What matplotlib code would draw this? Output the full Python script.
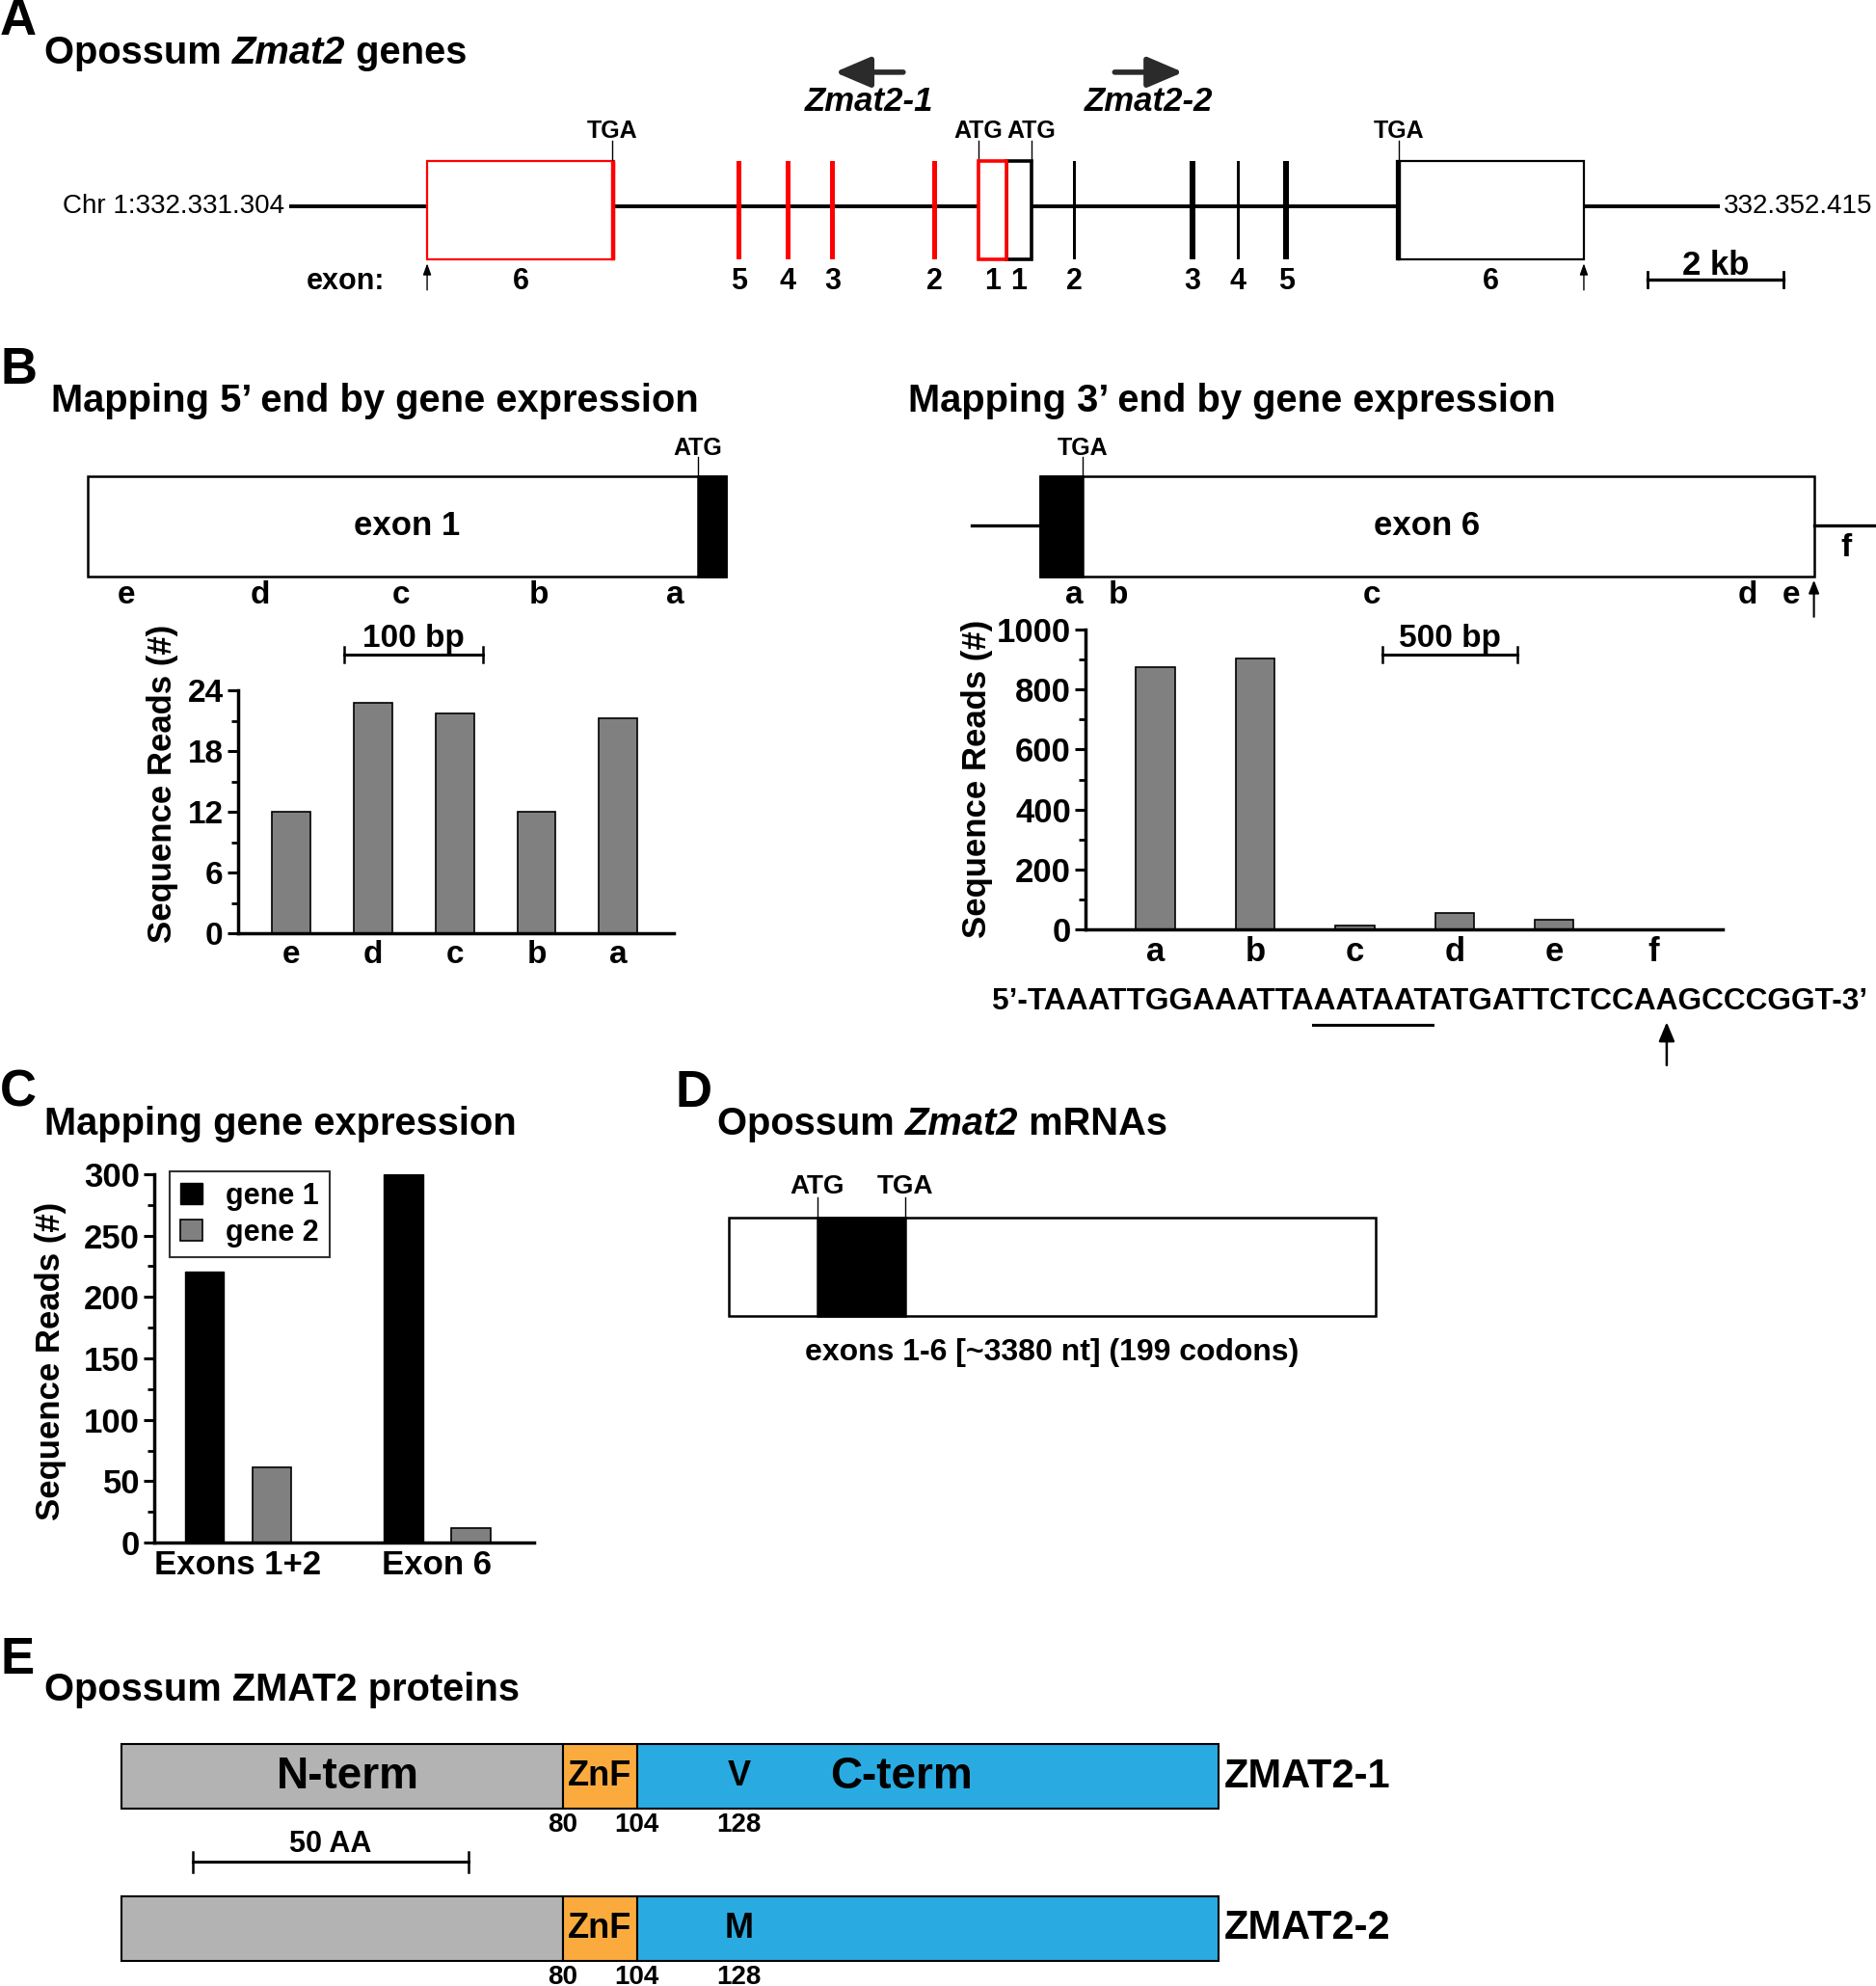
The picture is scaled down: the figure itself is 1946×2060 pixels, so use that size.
import matplotlib
matplotlib.use('Agg')
import matplotlib.pyplot as plt
import numpy as np
from matplotlib.patches import Rectangle
from matplotlib.ticker import MultipleLocator

plt.rcParams['font.family'] = ['Liberation Sans', 'DejaVu Sans']
plt.rcParams['font.weight'] = 'bold'
plt.rcParams['axes.linewidth'] = 2.5

# ---------------- data ----------------
# Panel A: genomic layout (kb from segment start)
chr_len_kb = 21.111
chr_start_label = 'Chr 1:332.331.304'
chr_end_label = '332.352.415'
g1_exon6_kb = [2.04, 4.80]
g1_exon6_cds_kb = 0.05
g1_mid_exons_kb = [6.64, 7.36, 8.02, 9.53]
g1_mid_labels = ['5', '4', '3', '2']
g1_exon1_kb = [10.17, 10.58]
g2_exon1_kb = [10.58, 10.95]
g2_mid_exons_kb = [11.59, 13.33, 14.00, 14.71]
g2_mid_widths_kb = [0.045, 0.08, 0.045, 0.08]
g2_mid_labels = ['2', '3', '4', '5']
g2_exon6_kb = [16.34, 19.10]
g2_exon6_cds_kb = 0.05
scale_kb = 2.0
scale_kb_start = 20.04

# Panel B: 5' end mapping
exon1_len_bp = 462
exon1_atg_bp = 442
pos5_labels = ['e', 'd', 'c', 'b', 'a']
pos5_bp = [28, 125, 227, 327, 425]
reads5 = [12, 22.8, 21.7, 12, 21.2]
scale5_bp = 100
scale5_start_bp = 186

# Panel B: 3' end mapping
exon6_len_bp = 2855
exon6_tga_bp = 159
exon6_flank_bp = [252, 230]
pos3_labels = ['a', 'b', 'c', 'd', 'e']
pos3_bp = [126, 290, 1224, 2612, 2771]
pos3_f_bp = 2972
bar3_labels = ['a', 'b', 'c', 'd', 'e', 'f']
reads3 = [873, 905, 15, 55, 33, 0]
scale3_bp = 500
scale3_start_bp = 1262
seq3 = '5\u2019-TAAATTGGAAATTAAATAATATGATTCTCCAAGCCCGGT-3\u2019'
polyA_signal = 'AATAAT'
cleavage_motif = 'CCAAG'
cleavage_offset = 3

# Panel C
groups_c = ['Exons 1+2', 'Exon 6']
gene1_reads = [221, 300]
gene2_reads = [61, 12]

# Panel D
mrna_len_nt = 3380
mrna_atg_nt = 463
mrna_tga_nt = 926
mrna_caption = 'exons 1-6 [~3380 nt] (199 codons)'

# Panel E
protein_len = 199
domain_bounds = [0, 80, 93.5, 199]
domain_colors = ['#b3b3b3', '#fbab3d', '#29abe2']
residue_pos = [80, 93.5, 112]
residue_labels = ['80', '104', '128']
protein_names = ['ZMAT2-1', 'ZMAT2-2']
variant_residue = ['V', 'M']
scale_aa = 50
scale_aa_start = 12.9

# ---------------- layout ----------------
W, H = 1481.0, 1568.0
fig = plt.figure(figsize=(19.46, 20.60), dpi=100)
renderer = fig.canvas.get_renderer()
PXL = fig.get_figwidth() * fig.dpi / W


def diagram_axes(px0, px1, d0, d1):
    s = (d1 - d0) / (px1 - px0)
    ax = fig.add_axes([0, 0, 1, 1])
    ax.set_xlim(d0 - px0 * s, d0 + (W - px0) * s)
    ax.set_ylim(H, 0)
    ax.axis('off')
    ax.patch.set_alpha(0)
    return ax


def add_ax(x0, y0, x1, y1):
    ax = fig.add_axes([x0 / W, 1 - y1 / H, (x1 - x0) / W, (y1 - y0) / H])
    ax.patch.set_alpha(0)
    return ax


ov = diagram_axes(0, W, 0, W)


def text_width(s, **kw):
    t1 = ov.text(0, 0, s + '|', **kw)
    t2 = ov.text(0, 0, '|', **kw)
    w = (t1.get_window_extent(renderer=renderer).width -
         t2.get_window_extent(renderer=renderer).width) / PXL
    t1.remove(); t2.remove()
    return w


def rich_text(x, y, parts, size):
    for s, style in parts:
        ov.text(x, y, s, fontsize=size, fontstyle=style, ha='left', va='baseline')
        x += text_width(s, fontsize=size, fontstyle=style)


# panel letters
for letter, (lx, ly) in zip('ABCDE', [(0, 17), (0, 292), (0, 863), (533, 863), (0, 1311)]):
    ov.text(lx, ly, letter, fontsize=38, ha='left', va='center')

# titles
TS = 28.7
rich_text(35, 50, [('Opossum ', 'normal'), ('Zmat2', 'italic'), (' genes', 'normal')], TS)
rich_text(40, 325, [('Mapping 5\u2019 end by gene expression', 'normal')], TS)
rich_text(717, 325, [('Mapping 3\u2019 end by gene expression', 'normal')], TS)
rich_text(35, 896, [('Mapping gene expression', 'normal')], TS)
rich_text(566, 896, [('Opossum ', 'normal'), ('Zmat2', 'italic'), (' mRNAs', 'normal')], TS)
rich_text(35, 1343, [('Opossum ZMAT2 proteins', 'normal')], TS)

# ---------------- Panel A ----------------
axA = diagram_axes(228, 1358, 0, chr_len_kb)
yA, topA, hA = 163, 127, 78
axA.plot([0, chr_len_kb], [yA, yA], color='k', lw=2.8, solid_capstyle='butt', zorder=1)
# gene 1 (red)
axA.add_patch(Rectangle((g1_exon6_kb[0], topA), g1_exon6_kb[1] - g1_exon6_kb[0], hA,
                        fc='white', ec='red', lw=1.6, zorder=2))
axA.add_patch(Rectangle((g1_exon6_kb[1] - g1_exon6_cds_kb, topA), g1_exon6_cds_kb, hA,
                        fc='red', ec='red', lw=1, zorder=3))
for xk in g1_mid_exons_kb:
    axA.add_patch(Rectangle((xk - 0.035, topA), 0.07, hA, fc='red', ec='none', zorder=3))
# exon 1 boxes
axA.add_patch(Rectangle((g2_exon1_kb[0], topA), g2_exon1_kb[1] - g2_exon1_kb[0], hA,
                        fc='white', ec='k', lw=2.6, zorder=2))
axA.add_patch(Rectangle((g1_exon1_kb[0], topA), g1_exon1_kb[1] - g1_exon1_kb[0], hA,
                        fc='white', ec='red', lw=2.6, zorder=3))
# gene 2 (black)
for xk, wk in zip(g2_mid_exons_kb, g2_mid_widths_kb):
    axA.add_patch(Rectangle((xk - wk / 2, topA), wk, hA, fc='k', ec='none', zorder=3))
axA.add_patch(Rectangle((g2_exon6_kb[0], topA), g2_exon6_kb[1] - g2_exon6_kb[0], hA,
                        fc='white', ec='k', lw=1.6, zorder=2))
axA.add_patch(Rectangle((g2_exon6_kb[0], topA), g2_exon6_cds_kb, hA,
                        fc='k', ec='k', lw=1, zorder=3))
# codon ticks
codon_marks = [(g1_exon6_kb[1] - g1_exon6_cds_kb / 2, 'TGA'),
               (g1_exon1_kb[0], 'ATG'),
               (g2_exon1_kb[1], 'ATG'),
               (g2_exon6_kb[0] + g2_exon6_cds_kb / 2, 'TGA')]
for xk, lab in codon_marks:
    axA.plot([xk, xk], [111, topA], color='k', lw=1.0)
    axA.text(xk, 113, lab, ha='center', va='bottom', fontsize=18)
# polyA arrows
for xk in [g1_exon6_kb[0], g2_exon6_kb[1]]:
    axA.annotate('', xy=(xk, 208), xytext=(xk, 229),
                 arrowprops=dict(arrowstyle='-|>,head_length=0.5,head_width=0.18', lw=1.0,
                                 color='k', shrinkA=0, shrinkB=0, mutation_scale=14))
# labels
axA.text(-0.07, yA, chr_start_label, ha='right', va='center', fontsize=20, fontweight='normal')
axA.text(chr_len_kb + 0.05, yA, chr_end_label, ha='left', va='center', fontsize=20,
         fontweight='normal')
ex_y = 222
ov.text(273, ex_y, 'exon:', ha='center', va='center', fontsize=22)
axA.text(np.mean(g1_exon6_kb), ex_y, '6', ha='center', va='center', fontsize=22)
for xk, lab in zip(g1_mid_exons_kb, g1_mid_labels):
    axA.text(xk, ex_y, lab, ha='center', va='center', fontsize=22)
axA.text(np.mean(g1_exon1_kb), ex_y, '1', ha='center', va='center', fontsize=22)
axA.text(np.mean(g2_exon1_kb), ex_y, '1', ha='center', va='center', fontsize=22)
for xk, lab in zip(g2_mid_exons_kb, g2_mid_labels):
    axA.text(xk, ex_y, lab, ha='center', va='center', fontsize=22)
axA.text(np.mean(g2_exon6_kb), ex_y, '6', ha='center', va='center', fontsize=22)
# scale bar
axA.plot([scale_kb_start, scale_kb_start + scale_kb], [221, 221], color='k', lw=2.4)
for xk in [scale_kb_start, scale_kb_start + scale_kb]:
    axA.plot([xk, xk], [215, 227], color='k', lw=2.0)
axA.text(scale_kb_start + scale_kb / 2, 217, '2 kb', ha='center', va='baseline', fontsize=25)
# gene direction arrows
arrow_kw = dict(arrowstyle='-|>,head_length=0.75,head_width=0.32', lw=4.0,
                color='#2b2b2b', shrinkA=0, shrinkB=0, mutation_scale=30)
ov.annotate('', xy=(659, 57), xytext=(713, 57), arrowprops=arrow_kw)
ov.annotate('', xy=(934, 57), xytext=(880, 57), arrowprops=arrow_kw)
ov.text(686, 80, 'Zmat2-1', ha='center', va='center', fontsize=25, fontstyle='italic')
ov.text(907, 80, 'Zmat2-2', ha='center', va='center', fontsize=25, fontstyle='italic')

# ---------------- Panel B left diagram ----------------
axB1 = diagram_axes(69, 573, 0, exon1_len_bp)
axB1.add_patch(Rectangle((0, 376), exon1_len_bp, 79, fc='white', ec='k', lw=1.8))
axB1.add_patch(Rectangle((exon1_atg_bp, 376), exon1_len_bp - exon1_atg_bp, 79, fc='k', ec='k', lw=1.8))
axB1.plot([exon1_atg_bp, exon1_atg_bp], [361, 376], color='k', lw=1.0)
axB1.text(exon1_atg_bp, 363, 'ATG', ha='center', va='bottom', fontsize=18)
axB1.text(exon1_len_bp / 2, 415, 'exon 1', ha='center', va='center', fontsize=25)
for xb, lab in zip(pos5_bp, pos5_labels):
    axB1.text(xb, 470, lab, ha='center', va='center', fontsize=24)
axB1.plot([scale5_start_bp, scale5_start_bp + scale5_bp], [517, 517], color='k', lw=2.2)
for xb in [scale5_start_bp, scale5_start_bp + scale5_bp]:
    axB1.plot([xb, xb], [511, 523], color='k', lw=1.8)
axB1.text(scale5_start_bp + scale5_bp / 2, 511, '100 bp', ha='center', va='baseline', fontsize=24)

# ---------------- Panel B right diagram ----------------
axB3 = diagram_axes(821, 1432, 0, exon6_len_bp)
axB3.plot([-exon6_flank_bp[0], 0], [415, 415], color='k', lw=2.4)
axB3.plot([exon6_len_bp, exon6_len_bp + exon6_flank_bp[1]], [415, 415], color='k', lw=2.4)
axB3.add_patch(Rectangle((0, 376), exon6_len_bp, 79, fc='white', ec='k', lw=1.8))
axB3.add_patch(Rectangle((0, 376), exon6_tga_bp, 79, fc='k', ec='k', lw=1.8))
axB3.plot([exon6_tga_bp, exon6_tga_bp], [361, 376], color='k', lw=1.0)
axB3.text(exon6_tga_bp, 363, 'TGA', ha='center', va='bottom', fontsize=18)
axB3.text(exon6_len_bp / 2, 415, 'exon 6', ha='center', va='center', fontsize=25)
for xb, lab in zip(pos3_bp, pos3_labels):
    axB3.text(xb, 470, lab, ha='center', va='center', fontsize=24)
axB3.text(pos3_f_bp, 433, 'f', ha='center', va='center', fontsize=24)
axB3.annotate('', xy=(exon6_len_bp, 458), xytext=(exon6_len_bp, 487),
              arrowprops=dict(arrowstyle='-|>,head_length=0.5,head_width=0.2', lw=1.5,
                              color='k', shrinkA=0, shrinkB=0, mutation_scale=16))
axB3.plot([scale3_start_bp, scale3_start_bp + scale3_bp], [517, 517], color='k', lw=2.2)
for xb in [scale3_start_bp, scale3_start_bp + scale3_bp]:
    axB3.plot([xb, xb], [511, 523], color='k', lw=1.8)
axB3.text(scale3_start_bp + scale3_bp / 2, 511, '500 bp', ha='center', va='baseline', fontsize=24)


def style_bar_axes(ax, major, minor, labelsize=24):
    for side in ['top', 'right']:
        ax.spines[side].set_visible(False)
    ax.yaxis.set_major_locator(MultipleLocator(major))
    ax.yaxis.set_minor_locator(MultipleLocator(minor))
    ax.tick_params(axis='y', which='major', length=8, width=2.2, labelsize=labelsize, pad=3)
    ax.tick_params(axis='y', which='minor', length=5, width=2.0)
    ax.tick_params(axis='x', length=0, labelsize=labelsize, pad=5)


# ---------------- Panel B left bars ----------------
axB2 = add_ax(188, 545, 532, 737)
axB2.bar(np.arange(len(reads5)), reads5, width=0.47, color='#808080', edgecolor='k', lw=1.2)
axB2.set_xlim(-0.65, 4.68)
axB2.set_ylim(0, 24)
style_bar_axes(axB2, 6, 3)
axB2.set_xticks(np.arange(len(reads5)))
axB2.set_xticklabels(pos5_labels)
ov.text(128, 619, 'Sequence Reads (#)', rotation=90, ha='center', va='center', fontsize=25)

# ---------------- Panel B right bars ----------------
axB4 = add_ax(857, 497, 1360, 734)
axB4.bar(np.arange(len(reads3)), reads3, width=0.39, color='#808080', edgecolor='k', lw=1.2)
axB4.set_xlim(-0.70, 5.69)
axB4.set_ylim(0, 1000)
style_bar_axes(axB4, 200, 100, labelsize=25)
axB4.set_xticks(np.arange(len(reads3)))
axB4.set_xticklabels(bar3_labels)
ov.text(771, 615, 'Sequence Reads (#)', rotation=90, ha='center', va='center', fontsize=25)

# sequence with polyA signal and cleavage site
SQ = 22.8
seq_x, seq_y = 783, 791
ov.text(seq_x, seq_y, seq3, ha='left', va='center', fontsize=SQ)
i0 = seq3.find(polyA_signal)
u0 = seq_x + text_width(seq3[:i0], fontsize=SQ)
u1 = seq_x + text_width(seq3[:i0 + len(polyA_signal)], fontsize=SQ)
ov.plot([u0, u1], [809, 809], color='k', lw=2.2)
ic = seq3.find(cleavage_motif) + cleavage_offset
cx = seq_x + text_width(seq3[:ic], fontsize=SQ) + text_width(seq3[ic], fontsize=SQ) / 2
ov.annotate('', xy=(cx, 807), xytext=(cx, 841),
            arrowprops=dict(arrowstyle='-|>,head_length=0.6,head_width=0.25', lw=1.8,
                            color='k', shrinkA=0, shrinkB=0, mutation_scale=20))

# ---------------- Panel C ----------------
axC = add_ax(122, 927, 422, 1218)
xc = np.arange(len(groups_c))
axC.bar(xc - 0.169, gene1_reads, 0.197, color='k', edgecolor='k', lw=1.0, label='gene 1')
axC.bar(xc + 0.169, gene2_reads, 0.197, color='#808080', edgecolor='k', lw=1.2, label='gene 2')
axC.set_xlim(-0.42, 1.49)
axC.set_ylim(0, 300)
style_bar_axes(axC, 50, 25, labelsize=25)
axC.set_xticks(xc)
axC.set_xticklabels(groups_c)
leg = axC.legend(loc='upper left', bbox_to_anchor=(0.04, 1.007), frameon=True, fancybox=False,
                 edgecolor='k', fontsize=22, handlelength=0.75, handleheight=0.75,
                 borderpad=0.35, labelspacing=0.25, handletextpad=0.8, borderaxespad=0)
leg.get_frame().set_linewidth(1.5)
ov.text(40, 1075, 'Sequence Reads (#)', rotation=90, ha='center', va='center', fontsize=25)

# ---------------- Panel D ----------------
axD = diagram_axes(575, 1086, 0, mrna_len_nt)
axD.add_patch(Rectangle((0, 961), mrna_len_nt, 78, fc='white', ec='k', lw=1.8))
axD.add_patch(Rectangle((mrna_atg_nt, 961), mrna_tga_nt - mrna_atg_nt, 78, fc='k', ec='k', lw=1.8))
for xn, lab in [(mrna_atg_nt, 'ATG'), (mrna_tga_nt, 'TGA')]:
    axD.plot([xn, xn], [945, 961], color='k', lw=1.0)
    axD.text(xn, 947, lab, ha='center', va='bottom', fontsize=20)
axD.text(mrna_len_nt / 2, 1068, mrna_caption, ha='center', va='center', fontsize=23)

# ---------------- Panel E ----------------
axE = diagram_axes(96, 962, 0, protein_len)
bar_tops = [1377, 1497]
bar_h = 51
for k, (name, var, ytop) in enumerate(zip(protein_names, variant_residue, bar_tops)):
    for j in range(3):
        axE.add_patch(Rectangle((domain_bounds[j], ytop), domain_bounds[j + 1] - domain_bounds[j],
                                bar_h, fc=domain_colors[j], ec='k', lw=1.5))
    yc = ytop + bar_h / 2
    axE.text((domain_bounds[1] + domain_bounds[2]) / 2, yc, 'ZnF', ha='center', va='center',
             fontsize=26)
    axE.text(residue_pos[2], yc, var, ha='center', va='center', fontsize=26)
    axE.text(protein_len + 1, yc, name, ha='left', va='center', fontsize=30)
    for xr, lab in zip(residue_pos, residue_labels):
        axE.text(xr, ytop + bar_h + 13, lab, ha='center', va='center', fontsize=20)
    if k == 0:
        axE.text(domain_bounds[1] / 2 + 1, yc, 'N-term', ha='center', va='center', fontsize=33)
        axE.text(141.5, yc, 'C-term', ha='center', va='center', fontsize=33)
axE.plot([scale_aa_start, scale_aa_start + scale_aa], [1470, 1470], color='k', lw=2.2)
for xa in [scale_aa_start, scale_aa_start + scale_aa]:
    axE.plot([xa, xa], [1462, 1478], color='k', lw=1.8)
axE.text(scale_aa_start + scale_aa / 2, 1456, '50 AA', ha='center', va='center', fontsize=22)

fig.savefig('out.png', dpi=100)
